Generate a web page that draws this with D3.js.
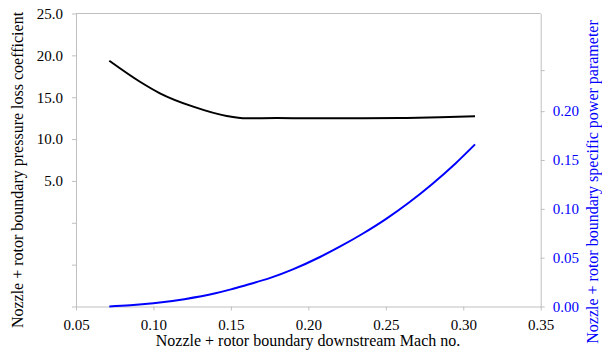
<!DOCTYPE html>
<html>
<head>
<meta charset="utf-8">
<script src="https://cdn.jsdelivr.net/npm/d3@7/dist/d3.min.js"></script>
<style>
  body { margin: 0; background: #fff; }
  svg { display: block; }
  svg text { font-family: "Liberation Serif", "Times New Roman", serif !important; }
</style>
</head>
<body>
<div id="chart"></div>
<script>
const width = 602;
const height = 360;

// data
const lossMach = [0.0715, 0.0913, 0.1042, 0.1257, 0.1473, 0.160, 0.1796, 0.201, 0.227, 0.259, 0.285, 0.3076];
const lossCoef = [19.36, 16.85, 15.47, 13.87, 12.76, 12.48, 12.52, 12.48, 12.48, 12.52, 12.6, 12.72];

const powerMach = [0.0715, 0.085, 0.10, 0.12, 0.14, 0.15, 0.16, 0.175, 0.19, 0.2075, 0.22, 0.235, 0.25, 0.265, 0.28, 0.295, 0.3076];
const powerParam = [0.0, 0.0012, 0.0033, 0.0075, 0.0135, 0.0175, 0.022, 0.029, 0.038, 0.0507, 0.061, 0.0745, 0.0895, 0.1065, 0.1255, 0.1465, 0.166];

const xTicks = [0.05, 0.10, 0.15, 0.20, 0.25, 0.30, 0.35];
const leftTicks = [-10, -5, 0, 5, 10, 15, 20, 25];
const rightTicks = [0, 0.05, 0.10, 0.15, 0.20, 0.242];

const mLeft = 76, mRight = 540.7, mTop = 13.5, mBottom = 306.5;
const axisColor = "#c0c0c0";

const svg = d3.select("#chart").append("svg")
  .attr("width", width)
  .attr("height", height);

const x = d3.scaleLinear().domain([0.05, 0.35]).range([mLeft, mRight]);
const yL = d3.scaleLinear().domain([-10, 25]).range([mBottom, mTop]);
const yR = d3.scaleLinear().domain([0, 0.30]).range([mBottom, mTop]);

// top frame line
svg.append("line")
  .attr("x1", mLeft).attr("x2", mRight)
  .attr("y1", mTop).attr("y2", mTop)
  .attr("stroke", axisColor);

// x axis
const xAxis = svg.append("g")
  .attr("transform", "translate(0," + mBottom + ")")
  .call(d3.axisBottom(x).tickValues(xTicks).tickFormat(d3.format(".2f")).tickSize(4).tickSizeOuter(0));

// left axis
const yAxisL = svg.append("g")
  .attr("transform", "translate(" + mLeft + ",0)")
  .call(d3.axisLeft(yL).tickValues(leftTicks)
    .tickFormat(d => d >= 5 ? d3.format(".1f")(d) : "")
    .tickSize(4).tickSizeOuter(0));

// right axis
const yAxisR = svg.append("g")
  .attr("transform", "translate(" + mRight + ",0)")
  .call(d3.axisRight(yR).tickValues(rightTicks)
    .tickFormat(d => d <= 0.2001 ? d3.format(".2f")(d) : "")
    .tickSize(4).tickSizeOuter(0));

[xAxis, yAxisL, yAxisR].forEach(g => {
  g.attr("font-size", 15);
  g.select(".domain").attr("stroke", axisColor);
  g.selectAll(".tick line").attr("stroke", axisColor);
});
xAxis.selectAll("text").attr("fill", "#000").attr("dy", "1.1em");
yAxisL.selectAll("text").attr("fill", "#000").attr("x", -13);
yAxisR.selectAll("text").attr("fill", "#0000ff").attr("x", 12);

// lines
const lossLine = d3.line()
  .x((d, i) => x(lossMach[i]))
  .y(d => yL(d))
  .curve(d3.curveMonotoneX);

const powerLine = d3.line()
  .x((d, i) => x(powerMach[i]))
  .y(d => yR(d))
  .curve(d3.curveMonotoneX);

svg.append("path")
  .datum(lossCoef)
  .attr("d", lossLine)
  .attr("fill", "none")
  .attr("stroke", "#000")
  .attr("stroke-width", 2);

svg.append("path")
  .datum(powerParam)
  .attr("d", powerLine)
  .attr("fill", "none")
  .attr("stroke", "#0000ff")
  .attr("stroke-width", 2);

// axis titles
svg.append("text")
  .attr("x", 308)
  .attr("y", 346)
  .attr("text-anchor", "middle")
  .style("font-size", "16px")
  .text("Nozzle + rotor boundary downstream Mach no.");

svg.append("text")
  .attr("transform", "translate(23,170) rotate(-90)")
  .attr("text-anchor", "middle")
  .style("font-size", "16px")
  .text("Nozzle + rotor boundary pressure loss coefficient");

svg.append("text")
  .attr("transform", "translate(598,182) rotate(-90)")
  .attr("text-anchor", "middle")
  .attr("fill", "#0000ff")
  .style("font-size", "16px")
  .text("Nozzle + rotor boundary specific power parameter");
</script>
</body>
</html>
